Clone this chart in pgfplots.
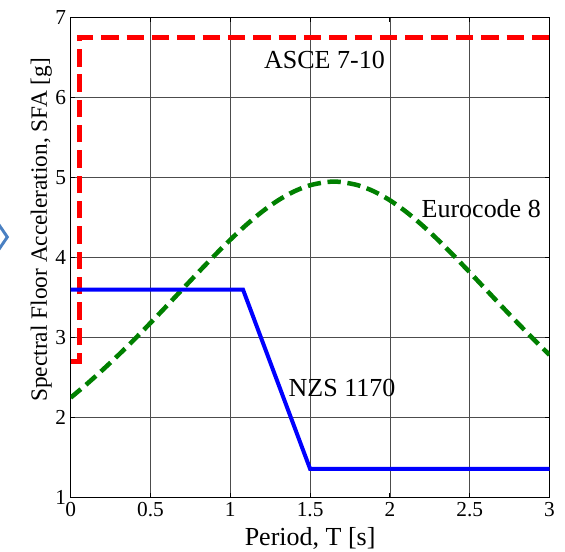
\documentclass[border=0pt]{standalone}
\usepackage{fontspec}
\setmainfont{Liberation Serif}
\usepackage{pgfplots}
\pgfplotsset{compat=1.18}
\definecolor{mgreen}{rgb}{0,0.5,0}
\definecolor{chev}{rgb}{0.29,0.50,0.76}
\begin{document}
\begin{tikzpicture}
\begin{axis}[
  scale only axis, width=359.2pt, height=360pt,
  xmin=0, xmax=3, ymin=1, ymax=7,
  xtick={0,0.5,1,1.5,2,2.5,3}, ytick={1,2,3,4,5,6,7},
  xticklabels={0,0.5,1,1.5,2,2.5,3},
  yticklabels={1,2,3,4,5,6,7},
  xticklabel style={font=\fontsize{16}{16}\rmfamily\selectfont},
  yticklabel style={font=\fontsize{16}{16}\rmfamily\selectfont},
  /pgf/number format/assume math mode=true,
  grid=major, grid style={black!70, line width=0.6pt},
  tick align=inside, tick pos=both,
  major tick length=3.5pt,
  tick style={black, line width=0.7pt},
  axis line style={black, line width=1.1pt},
  xlabel={Period, T [s]},
  xlabel style={font=\fontsize{19.5}{20}\selectfont, at={(axis description cs:0.5,-0.1006)}, anchor=base},
  ylabel={Spectral Floor Acceleration, SFA [g]},
  ylabel style={font=\fontsize{17.5}{18}\selectfont, at={(axis description cs:-0.0495,0.558)}, anchor=base},
  clip=true,
]
\addplot[red, line width=3.6pt, dash pattern=on 13pt off 6pt] coordinates {
  (0,2.7) (0.055,2.7) (0.055,6.75) (3,6.75)};
\addplot[mgreen, line width=3.4pt, dash pattern=on 10pt off 5pt, smooth] coordinates {
  (0,2.25) (0.1,2.4186) (0.2,2.5969) (0.3,2.7847) (0.4,2.9809) (0.5,3.1845)
  (0.6,3.3935) (0.7,3.6056) (0.8,3.8175) (0.9,4.0253) (1.0,4.2246)
  (1.1,4.41) (1.2,4.5762) (1.3,4.7175) (1.4,4.8288) (1.5,4.9057)
  (1.6,4.9451) (1.65,4.95) (1.7,4.9451) (1.8,4.9057) (1.9,4.8288)
  (2.0,4.7175) (2.1,4.5762) (2.2,4.41) (2.3,4.2246) (2.4,4.0253)
  (2.5,3.8175) (2.6,3.6056) (2.7,3.3935) (2.8,3.1845) (2.9,2.9809) (3.0,2.7847)};
\addplot[blue, line width=3pt] coordinates {
  (0,3.6) (1.08,3.6) (1.5,1.36) (3,1.36)};
\node[font=\fontsize{19.5}{20}\selectfont, inner sep=0pt] at (axis cs:1.59,6.47) {ASCE 7-10};
\node[font=\fontsize{19.5}{20}\selectfont, inner sep=0pt] at (axis cs:2.572,4.62) {Eurocode 8};
\node[font=\fontsize{19.5}{20}\selectfont, inner sep=0pt] at (axis cs:1.70,2.37) {NZS 1170};
\end{axis}
\draw[chev, line width=2.2pt, line join=miter] ([xshift=-54pt,yshift=205pt]current axis.south west) -- ([xshift=-47.5pt,yshift=195.5pt]current axis.south west) -- ([xshift=-54pt,yshift=186pt]current axis.south west);
\pgfresetboundingbox
\path[use as bounding box] ([xshift=-53pt,yshift=-40.7pt]current axis.south west) rectangle ([xshift=11.6pt,yshift=13.3pt]current axis.north east);
\end{tikzpicture}
\end{document}
